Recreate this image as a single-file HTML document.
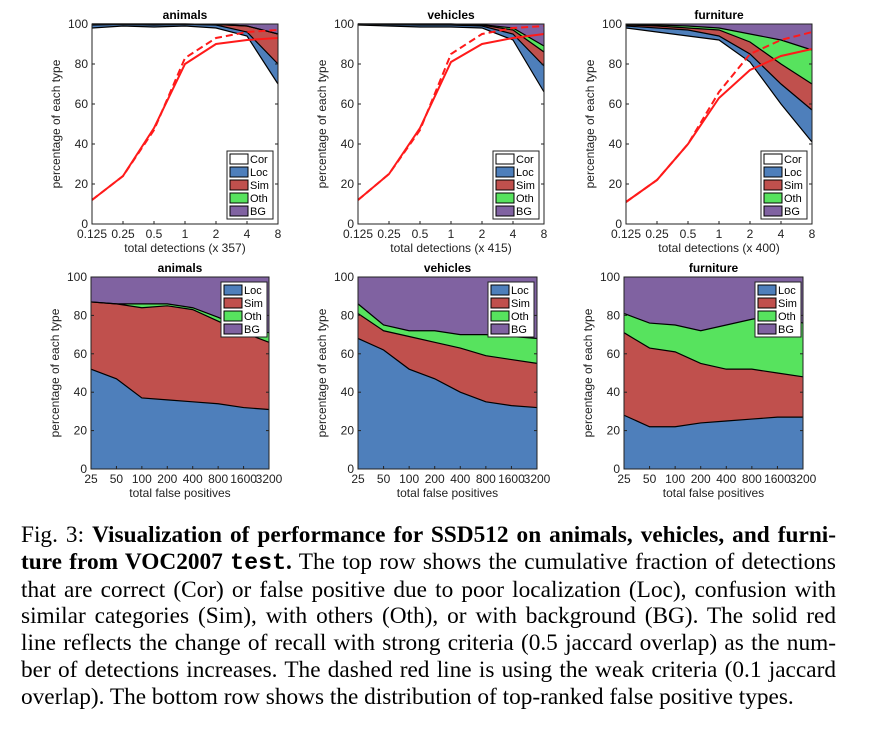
<!DOCTYPE html>
<html><head><meta charset="utf-8"><style>
body{margin:0;width:870px;height:729px;background:#fff;overflow:hidden;font-family:"Liberation Sans",sans-serif}
#cap{position:absolute;left:21px;top:522px;width:815px;font-family:"Liberation Serif",serif;font-size:23.3px;line-height:26.8px;color:#000}
#cap div{text-align:justify;text-align-last:justify;white-space:nowrap}
#cap div.last{text-align-last:left}
tt{font-family:"Liberation Mono",monospace;font-weight:bold}
</style></head><body>
<svg id="fig" width="870" height="510" style="position:absolute;left:0;top:0" font-family="Liberation Sans, sans-serif"></svg>
<div id="cap">
<div>Fig. 3: <b>Visualization of performance for SSD512 on animals, vehicles, and furni-</b></div>
<div><b>ture from VOC2007 <tt>test</tt>.</b> The top row shows the cumulative fraction of detections</div>
<div>that are correct (Cor) or false positive due to poor localization (Loc), confusion with</div>
<div>similar categories (Sim), with others (Oth), or with background (BG). The solid red</div>
<div>line reflects the change of recall with strong criteria (0.5 jaccard overlap) as the num-</div>
<div>ber of detections increases. The dashed red line is using the weak criteria (0.1 jaccard</div>
<div class="last">overlap). The bottom row shows the distribution of top-ranked false positive types.</div>
</div>
<script>
const topTicks=["0.125","0.25","0.5","1","2","4","8"];
const botTicks=["25","50","100","200","400","800","1600","3200"];
const yTicks=[0,20,40,60,80,100];
const aCor=[98,99,98.5,99,98,94,70];
const aLoc=[99.5,99.8,99.5,99.8,99.5,96,80];
const aSim=[100,100,100,100,99.8,99,95];
const aOth=[100,100,100,100,99.8,99,95];
const aRec=[12,24,48,80,90,92,93];
const aRecW=[12,24,47,83,93,96,97];
const vCor=[99.5,99,98.5,98.5,98,92,66];
const vLoc=[100,99.7,99.5,99.5,99,95,79];
const vSim=[100,100,100,100,99.5,97,86];
const vOth=[100,100,100,100,99.7,98,89];
const vRec=[12,25,48,81,90,93,95];
const vRecW=[12,25,47,85,95,98,99];
const fCor=[98,96,94,92,81,60,41];
const fLoc=[99,98,97,94,85,70,57];
const fSim=[99.5,99,98,97,91,80,70];
const fOth=[99.7,99.5,99,98,95,92,87];
const fRec=[11,22,40,63,77,84,87.5];
const fRecW=[11,22,40,66,85,92,96];
const baLoc=[52,47,37,36,35,34,32,31];
const baSim=[87,86,84,85,83,77,71,66];
const baOth=[87,86,86,86,84,79,73,71];
const bvLoc=[68,62,52,47,40,35,33,32];
const bvSim=[81,72,69,66,63,59,57,55];
const bvOth=[86,75,72,72,70,70,69,68];
const bfLoc=[28,22,22,24,25,26,27,27];
const bfSim=[71,63,61,55,52,52,50,48];
const bfOth=[81,76,75,72,75,78,80,76];

const NS="http://www.w3.org/2000/svg";
const svg=document.getElementById('fig');
const COL={Cor:"#ffffff",Loc:"#4e7fbb",Sim:"#c0504d",Oth:"#57e35e",BG:"#8062a1"};
function mk(tag,attrs,parent){const e=document.createElementNS(NS,tag);for(const k in attrs)e.setAttribute(k,attrs[k]);(parent||svg).appendChild(e);return e;}
function chart(opt){
  const g=mk('g',{});
  
  
  const {x0,x1,y0,y1,ticks}=opt;
  const n=ticks.length;
  const X=i=>x0+(x1-x0)*i/(n-1);
  const Y=v=>y1-(y1-y0)*v/100;
  const bounds=opt.bounds;
  const names=opt.layers;
  let lower=ticks.map(()=>0);
  for(let k=0;k<names.length;k++){
    const upper=k<bounds.length?bounds[k]:ticks.map(()=>100);
    let d="M"+X(0)+","+Y(upper[0]);
    for(let i=1;i<n;i++)d+=" L"+X(i)+","+Y(upper[i]);
    for(let i=n-1;i>=0;i--)d+=" L"+X(i)+","+Y(lower[i]);
    const p=mk('path',{d:d+"Z",fill:COL[names[k]],stroke:"none"},g);
    
    
    lower=upper;
  }
  bounds.forEach(b=>{let d="";b.forEach((v,i)=>d+=(i?" L":"M")+X(i)+","+Y(v));mk('path',{d,fill:"none",stroke:"#000","stroke-width":1.2},g);});
  if(opt.rec){
    let d="";opt.rec.forEach((v,i)=>d+=(i?" L":"M")+X(i)+","+Y(v));
    const l=mk('path',{d,fill:"none",stroke:"#ff1a1a","stroke-width":2},g);
    
    
    d="";opt.recW.forEach((v,i)=>d+=(i?" L":"M")+X(i)+","+Y(v));
    const l2=mk('path',{d,fill:"none",stroke:"#ff1a1a","stroke-width":2,"stroke-dasharray":"7,4"},g);
    
    
  }
  mk('rect',{x:x0,y:y0,width:x1-x0,height:y1-y0,fill:"none",stroke:"#222","stroke-width":1},g);
  yTicks.forEach(v=>{
    mk('line',{x1:x0,x2:x0+3,y1:Y(v),y2:Y(v),stroke:"#222"},g);
    mk('line',{x1:x1,x2:x1-3,y1:Y(v),y2:Y(v),stroke:"#222"},g);
    const t=mk('text',{x:x0-4,y:Y(v)+4,"font-size":12,"text-anchor":"end",fill:"#222"},g);t.textContent=v;
  });
  ticks.forEach((s,i)=>{
    mk('line',{x1:X(i),x2:X(i),y1:y1,y2:y1-3,stroke:"#222"},g);
    const t=mk('text',{x:X(i),y:y1+14,"font-size":12,"text-anchor":"middle",fill:"#222"},g);t.textContent=s;
  });
  const tt=mk('text',{x:(x0+x1)/2,y:y0-5,"font-size":12,"font-weight":"bold","text-anchor":"middle"},g);tt.textContent=opt.title;
  
  const xl=mk('text',{x:(x0+x1)/2,y:y1+28,"font-size":12,"text-anchor":"middle",fill:"#222"},g);xl.textContent=opt.xlabel;
  
  const yl=mk('text',{x:0,y:0,"font-size":12,"text-anchor":"middle",fill:"#222",transform:`translate(${x0-32},${(y0+y1)/2}) rotate(-90)`},g);yl.textContent="percentage of each type";
  
  const L=opt.legend;const lg=mk('g',{},g);
  
  mk('rect',{x:L[0],y:L[1],width:L[2],height:names.length*13+3,fill:"#fff",stroke:"#222"},lg);
  names.forEach((nm,k)=>{
    const yy=L[1]+3+k*13;
    mk('rect',{x:L[0]+3,y:yy,width:18,height:10,fill:COL[nm],stroke:"#000"},lg);
    const t=mk('text',{x:L[0]+23,y:yy+9,"font-size":11},lg);t.textContent=nm;
  });
}
const TL=["Cor","Loc","Sim","Oth","BG"],BL=["Loc","Sim","Oth","BG"];
chart({name:'top-animals-chart',x0:92,x1:278,y0:24,y1:224,ticks:topTicks,bounds:[aCor,aLoc,aSim,aOth],layers:TL,rec:aRec,recW:aRecW,title:"animals",xlabel:"total detections (x 357)",legend:[227,151,46]});
chart({name:'top-vehicles-chart',x0:358,x1:544,y0:24,y1:224,ticks:topTicks,bounds:[vCor,vLoc,vSim,vOth],layers:TL,rec:vRec,recW:vRecW,title:"vehicles",xlabel:"total detections (x 415)",legend:[493,151,46]});
chart({name:'top-furniture-chart',x0:626,x1:812,y0:24,y1:224,ticks:topTicks,bounds:[fCor,fLoc,fSim,fOth],layers:TL,rec:fRec,recW:fRecW,title:"furniture",xlabel:"total detections (x 400)",legend:[761,151,46]});
chart({name:'bottom-animals-chart',x0:91,x1:269,y0:277,y1:469,ticks:botTicks,bounds:[baLoc,baSim,baOth],layers:BL,title:"animals",xlabel:"total false positives",legend:[221,282,46]});
chart({name:'bottom-vehicles-chart',x0:358,x1:537,y0:277,y1:469,ticks:botTicks,bounds:[bvLoc,bvSim,bvOth],layers:BL,title:"vehicles",xlabel:"total false positives",legend:[488,282,46]});
chart({name:'bottom-furniture-chart',x0:624,x1:803,y0:277,y1:469,ticks:botTicks,bounds:[bfLoc,bfSim,bfOth],layers:BL,title:"furniture",xlabel:"total false positives",legend:[755,282,46]});
</script>
</body></html>
